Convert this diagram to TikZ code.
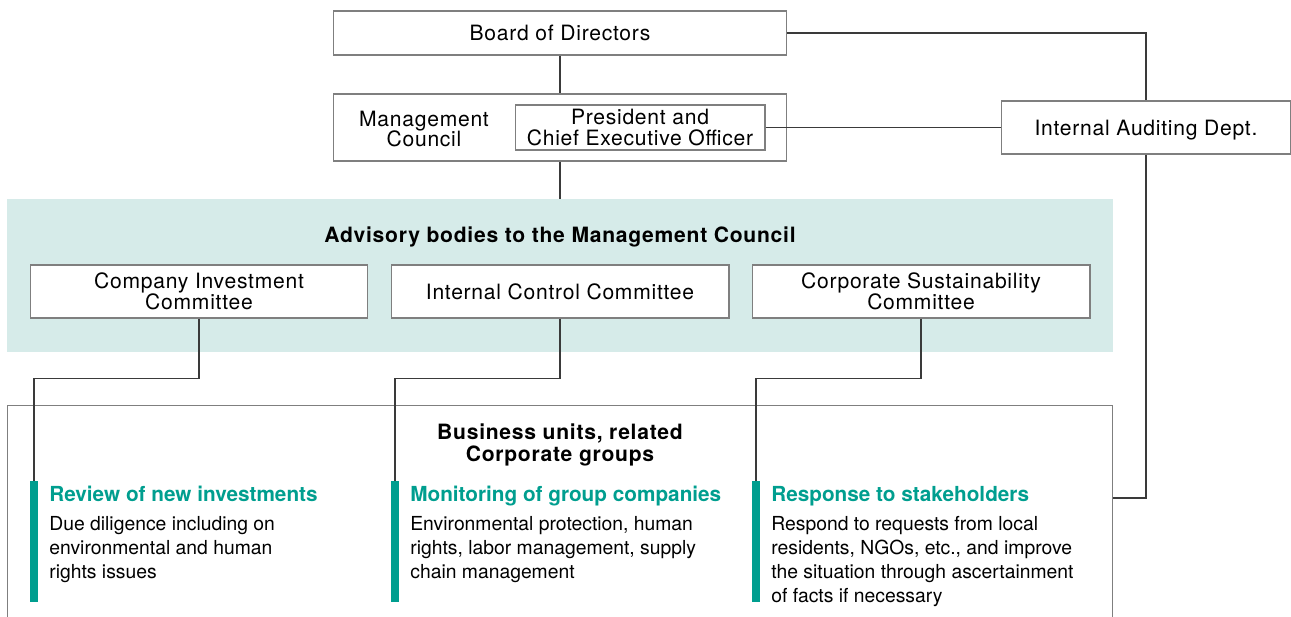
\documentclass[tikz,border=0pt]{standalone}
\usepackage{fontspec}
\setmainfont{TeX Gyre Heros}
\newfontfamily\boxfont[LetterSpace=3.5]{TeX Gyre Heros}
\definecolor{gteal}{HTML}{009E8F}
\definecolor{bandteal}{HTML}{D6EBE9}
\definecolor{boxgray}{HTML}{7F7F7F}
\definecolor{linegray}{HTML}{3A3A3A}
\begin{document}
\begin{tikzpicture}[x=0.02cm,y=-0.02cm,
    box/.style={draw=boxgray,line width=0.6pt,fill=white,align=center,inner sep=0pt,font=\boxfont\fontsize{12}{11.8}\selectfont},
    link/.style={draw=linegray,line width=0.6pt},
    bar/.style={fill=gteal,minimum width=0.16cm,minimum height=2.42cm,inner sep=0pt},
    head/.style={anchor=base west,text=gteal,inner sep=0pt,font=\bfseries\fontsize{11.8}{14}\selectfont},
    body/.style={anchor=north west,align=left,inner sep=0pt,font=\fontsize{11}{13.6}\selectfont},
    title/.style={align=center,inner sep=0pt,font=\boxfont\bfseries\fontsize{12}{13}\selectfont}]
    \useasboundingbox (0,0) rectangle (1291,616);
    \clip (0,0) rectangle (1291,616);
    \node[box,minimum width=9.08cm,minimum height=0.88cm] (board) at (560,33) {Board of Directors};
    \node[box,minimum width=9.08cm,minimum height=1.34cm] (mc) at (560,127.5) {};
    \node[box,draw=none,fill=none] (mclabel) at (424,129) {Management\\Council};
    \node[box,minimum width=5cm,minimum height=0.9cm] (ceo) at (640,127.5) {President and\\Chief Executive Officer};
    \node[box,text depth=0pt,minimum width=5.8cm,minimum height=1.06cm] (iad) at (1146,127.5) {Internal Auditing Dept.};
    \node[fill=bandteal,minimum width=22.12cm,minimum height=3.06cm,inner sep=0pt] (advisory) at (560,275.5) {};
    \node[title] (advtitle) at (560,237) {Advisory bodies to the Management Council};
    \node[box,minimum width=6.76cm,minimum height=1.06cm] (cic) at (199,291.5) {Company Investment\\Committee};
    \node[box,minimum width=6.76cm,minimum height=1.06cm] (icc) at (560,291.5) {Internal Control Committee};
    \node[box,minimum width=6.76cm,minimum height=1.06cm] (csc) at (921,291.5) {Corporate Sustainability\\Committee};
    \node[draw=boxgray,line width=0.6pt,minimum width=22.12cm,minimum height=4.6cm,inner sep=0pt] (biz) at (560,520) {};
    \node[title] (biztitle) at (560,445) {Business units, related\\Corporate groups};
    \coordinate (bizin) at (1113,498);
    \node[bar] (bar1) at (34,541.5) {};
    \node[bar] (bar2) at (395,541.5) {};
    \node[bar] (bar3) at (756,541.5) {};
    \node[head] (head1) at (49,501) {Review of new investments};
    \node[head] (head2) at (410,501) {Monitoring of group companies};
    \node[head] (head3) at (771,501) {Response to stakeholders};
    \node[body] (text1) at (49,516) {Due diligence including on\\environmental and human\\rights issues};
    \node[body] (text2) at (410,516) {Environmental protection, human\\rights, labor management, supply\\chain management};
    \node[body] (text3) at (771,516) {Respond to requests from local\\residents, NGOs, etc., and improve\\the situation through ascertainment\\of facts if necessary};
    \draw[link] (board) -- (mc);
    \draw[link] (mc) -- (advisory);
    \draw[link] (ceo) -- (iad);
    \draw[link] (board.east) -| (iad.north);
    \draw[link] (iad.south) |- (bizin);
    \draw[link] (cic.south) -- ++(0,60) -| (bar1.north);
    \draw[link] (icc.south) -- ++(0,60) -| (bar2.north);
    \draw[link] (csc.south) -- ++(0,60) -| (bar3.north);
\end{tikzpicture}
\end{document}
